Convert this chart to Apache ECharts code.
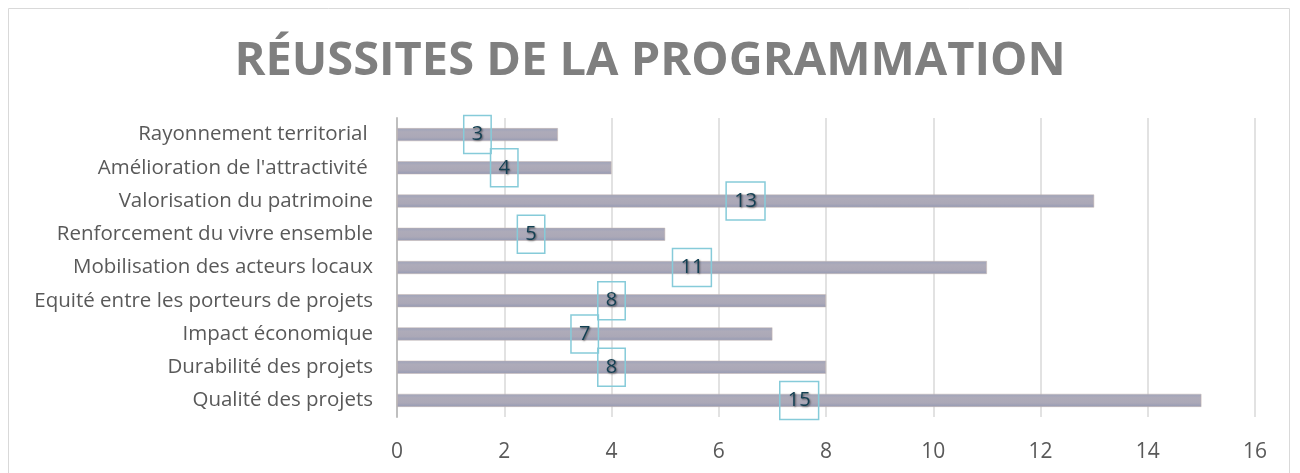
<!DOCTYPE html>
<html>
<head>
<meta charset="utf-8">
<script src="https://cdn.jsdelivr.net/npm/echarts@6/dist/echarts.min.js"></script>
<style>
  html, body { margin: 0; padding: 0; background: #fff; }
  #main { width: 1300px; height: 473px; }
</style>
</head>
<body>
<div id="main"></div>
<script>
  // catégories, de haut en bas
  const categories = [
    'Rayonnement territorial ',
    "Amélioration de l'attractivité ",
    'Valorisation du patrimoine',
    'Renforcement du vivre ensemble',
    'Mobilisation des acteurs locaux',
    'Equité entre les porteurs de projets',
    'Impact économique',
    'Durabilité des projets',
    'Qualité des projets'
  ]
  const values = [3, 4, 13, 5, 11, 8, 7, 8, 15]
  const xTicks = [0, 2, 4, 6, 8, 10, 12, 14, 16]

  const myechart = echarts.init(document.getElementById('main'))
  const option = {
    animation: false,
    graphic: [
      {
        type: 'rect',
        shape: { x: 8.5, y: 8.5, width: 1281, height: 480 },
        style: { fill: 'none', stroke: '#d9d9d9', lineWidth: 1 }
      }
    ],
    title: {
      text: 'RÉUSSITES DE LA PROGRAMMATION',
      left: 'center',
      top: 33,
      textStyle: {
        fontFamily: 'Open Sans',
        fontWeight: 'bold',
        fontSize: 47,
        color: '#7f7f7f'
      }
    },
    grid: {
      left: 397,
      top: 118,
      width: 858,
      height: 299
    },
    xAxis: {
      type: 'value',
      min: 0,
      max: 16,
      interval: 2,
      axisLine: { show: false },
      axisTick: { show: false },
      axisLabel: {
        color: '#595959',
        fontFamily: 'Open Sans',
        fontSize: 21,
        margin: 25,
        formatter: v => xTicks.includes(v) ? String(v) : ''
      },
      splitLine: { lineStyle: { color: '#d9d9d9', width: 1.5 } }
    },
    yAxis: {
      type: 'category',
      data: categories,
      inverse: true,
      axisLine: { show: true, lineStyle: { color: '#bfbfbf', width: 2 } },
      axisTick: { show: false },
      axisLabel: {
        color: '#595959',
        fontFamily: 'Open Sans',
        fontSize: 20.5,
        margin: 24
      }
    },
    series: [
      {
        type: 'bar',
        data: values,
        barWidth: 13,
        itemStyle: {
          color: new echarts.graphic.LinearGradient(0, 0, 0, 1, [
            { offset: 0, color: '#9ea3ba' },
            { offset: 0.3, color: '#aeabb9' },
            { offset: 0.7, color: '#aba8b7' },
            { offset: 1, color: '#949ab4' }
          ]),
          borderColor: '#c9b9b0',
          borderWidth: 0.5
        },
        label: {
          show: true,
          position: 'inside',
          color: '#123f52',
          fontFamily: 'Open Sans',
          fontSize: 20,
          lineHeight: 20,
          borderColor: '#86cbd9',
          borderWidth: 1.5,
          padding: [10, 8, 8, 8],
          textShadowColor: 'rgba(0,0,0,0.5)',
          textShadowBlur: 2,
          textShadowOffsetX: 1,
          textShadowOffsetY: 1
        }
      }
    ]
  }
  myechart.setOption(option)
</script>
</body>
</html>
